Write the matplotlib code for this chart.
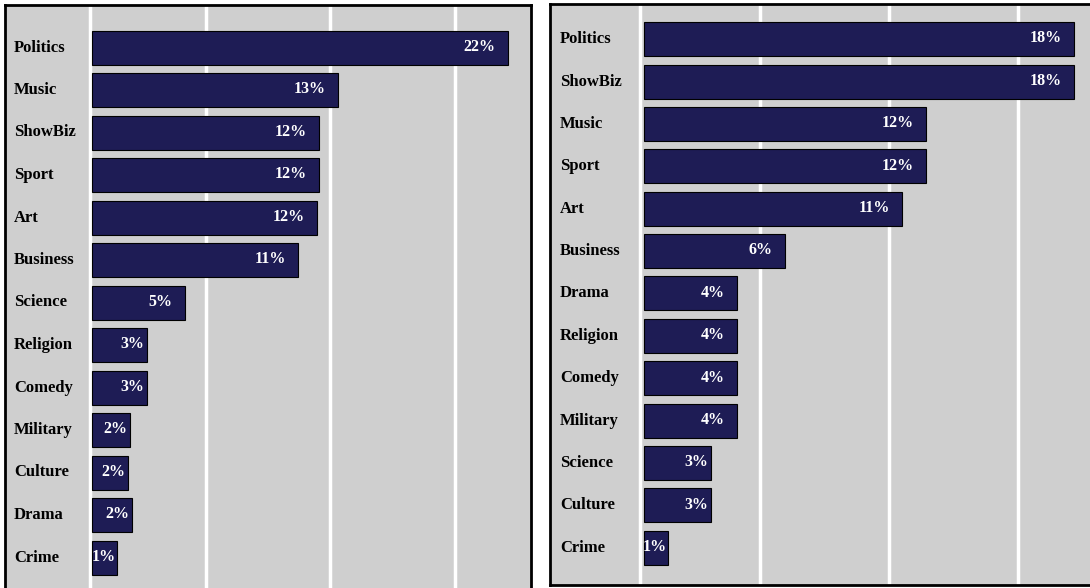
import matplotlib
matplotlib.use("Agg")
import matplotlib.pyplot as plt

# ---- data ----
left_categories = ["Politics", "Music", "ShowBiz", "Sport", "Art", "Business", "Science",
                   "Religion", "Comedy", "Military", "Culture", "Drama", "Crime"]
left_values = [22.0, 13.0, 12.0, 12.0, 11.9, 10.9, 4.9, 2.9, 2.9, 2.0, 1.9, 2.1, 1.3]

right_categories = ["Politics", "ShowBiz", "Music", "Sport", "Art", "Business", "Drama",
                    "Religion", "Comedy", "Military", "Science", "Culture", "Crime"]
right_values = [18.0, 18.0, 11.8, 11.8, 10.8, 5.9, 3.9, 3.9, 3.9, 3.9, 2.8, 2.8, 1.0]

FIG_W, FIG_H = 1090, 588
BG = "#cfcfcf"
BAR = "#1e1c55"
FONT = "Liberation Serif"

fig = plt.figure(figsize=(FIG_W / 100, FIG_H / 100), dpi=100)
fig.patch.set_facecolor("white")


def px_axes(x0, y0, x1, y1):
    """Axes from pixel box (top-left origin)."""
    return fig.add_axes([x0 / FIG_W, 1 - y1 / FIG_H, (x1 - x0) / FIG_W, (y1 - y0) / FIG_H])


def draw_panel(ax, cats, vals, xlim, ylim, grid, label_x):
    ax.set_facecolor(BG)
    n = len(cats)
    ypos = list(range(n))
    ax.barh(ypos, vals, height=0.8, color=BAR, edgecolor="black", linewidth=0.8, zorder=3)
    ax.set_xlim(*xlim)
    ax.set_ylim(*ylim)
    ax.set_xticks(grid)
    ax.set_yticks([])
    ax.grid(axis="x", color="white", linewidth=2.5, zorder=1)
    ax.set_axisbelow(True)
    ax.tick_params(length=0, labelbottom=False, labelleft=False)
    for s in ax.spines.values():
        s.set_linewidth(2)
        s.set_color("black")
    trans = ax.get_yaxis_transform()
    for y, c, v in zip(ypos, cats, vals):
        ax.text(label_x, y, c, transform=trans, ha="left", va="center",
                fontsize=12, fontweight="bold", family=FONT, color="black", zorder=4)
        off = 9 if v > 3.5 else (2 if v > 1.5 else 0.5)
        ax.annotate(f"{round(v)}%", xy=(v, y), xytext=(-off, 0.5), textcoords="offset points",
                    ha="right", va="center", fontsize=11.5, fontweight="bold",
                    family=FONT, color="white", zorder=5)


ax1 = px_axes(5, 5, 531, 600)
draw_panel(ax1, left_categories, left_values, xlim=(-4.6, 23.2), ylim=(13.0, -1.0),
           grid=[-0.1, 6.0, 12.6, 19.2], label_x=0.017)

ax2 = px_axes(550, 4, 1095, 585)
draw_panel(ax2, right_categories, right_values, xlim=(-3.93, 18.87), ylim=(12.88, -0.83),
           grid=[-0.17, 4.85, 10.25, 15.65], label_x=0.018)

fig.savefig("out.png", dpi=100, facecolor=fig.get_facecolor())
